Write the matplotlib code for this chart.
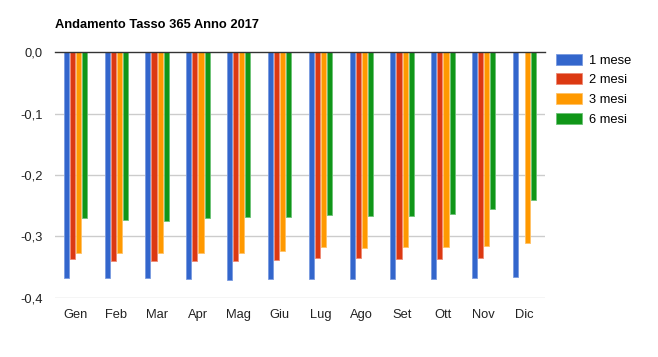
import numpy as np
import matplotlib
matplotlib.use("Agg")
import matplotlib.pyplot as plt
from matplotlib.patches import Patch

plt.rcParams['font.family'] = ['Liberation Sans', 'DejaVu Sans']

months = ["Gen", "Feb", "Mar", "Apr", "Mag", "Giu", "Lug", "Ago", "Set", "Ott", "Nov", "Dic"]
series_names = ["1 mese", "2 mesi", "3 mesi", "6 mesi"]
mese1 = [-0.368, -0.368, -0.368, -0.370, -0.371, -0.370, -0.370, -0.370, -0.370, -0.370, -0.368, -0.366]
mesi2 = [-0.337, -0.340, -0.340, -0.340, -0.340, -0.339, -0.336, -0.336, -0.337, -0.337, -0.336, np.nan]
mesi3 = [-0.327, -0.327, -0.327, -0.327, -0.327, -0.324, -0.318, -0.319, -0.318, -0.318, -0.316, -0.311]
mesi6 = [-0.270, -0.274, -0.275, -0.270, -0.268, -0.268, -0.265, -0.267, -0.267, -0.263, -0.255, -0.241]
yticks = [0.0, -0.1, -0.2, -0.3, -0.4]
ytick_labels = ["0,0", "-0,1", "-0,2", "-0,3", "-0,4"]

colors = ["#3366cc", "#dc3912", "#ff9900", "#109618"]
edges = ["#7a9be0", "#ee8a75", "#ffc266", "#6cc276"]

fig = plt.figure(figsize=(6.58, 3.57), dpi=100)
ax = fig.add_axes([55/658, 1-297.7/357, 490/658, (297.7-52.3)/357])

x = np.arange(len(months))
pitch = 0.15
width = 0.125
for i, vals in enumerate([mese1, mesi2, mesi3, mesi6]):
    ax.bar(x + (i - 1.5) * pitch, vals, width=width, color=colors[i],
           edgecolor=edges[i], linewidth=0.6, zorder=3)

ax.set_xlim(-0.5, len(months) - 0.5)
ax.set_ylim(-0.4, 0)
ax.set_yticks(yticks)
ax.set_yticklabels(ytick_labels)
ax.set_xticks(x)
ax.set_xticklabels(months)
ax.tick_params(axis='both', length=0, labelsize=9.3, colors='#222222')
ax.tick_params(axis='y', pad=9)
ax.tick_params(axis='x', pad=8)
for s in ax.spines.values():
    s.set_visible(False)
for yv in yticks[1:]:
    ax.axhline(yv, color='#cccccc', linewidth=1, zorder=1)
ax.axhline(0, color='#333333', linewidth=1, zorder=4, clip_on=False)

fig.text(55/658, 1-24.5/357, "Andamento Tasso 365 Anno 2017", fontsize=9.3,
         fontweight='bold', ha='left', va='center', color='#000000')

handles = [Patch(facecolor=colors[i], edgecolor=edges[i], linewidth=0.6) for i in range(4)]
fig.legend(handles, series_names, loc='upper left', bbox_to_anchor=(552/658, 1-50/357),
           frameon=False, fontsize=9.3, handlelength=2.0, handleheight=0.92,
           handletextpad=0.55, labelspacing=0.52, borderaxespad=0, borderpad=0.3)

fig.savefig("out.png", dpi=100)
